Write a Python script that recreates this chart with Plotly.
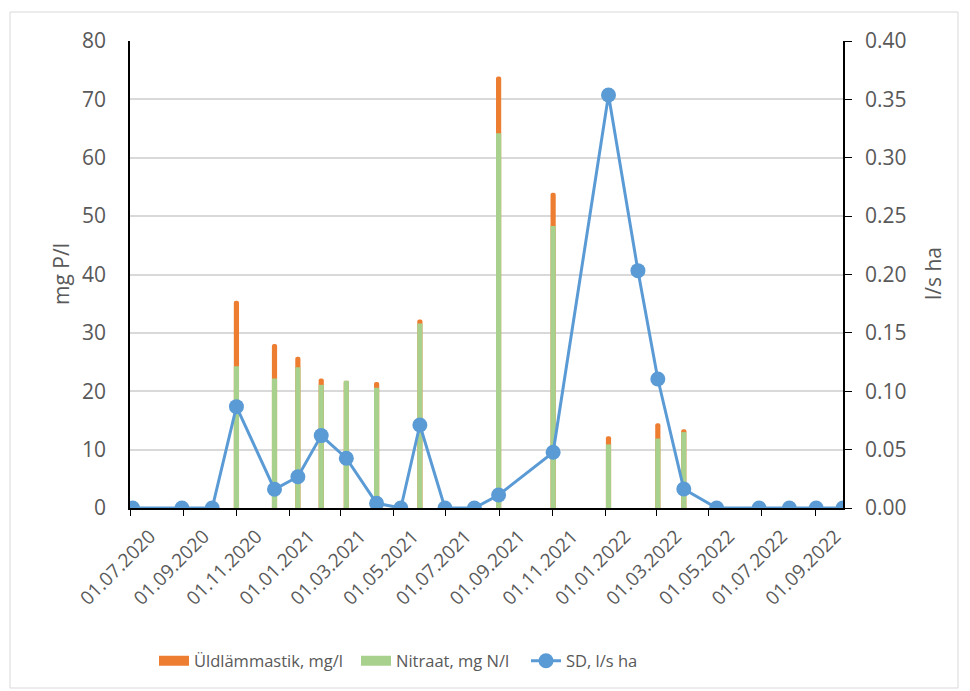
import plotly.graph_objects as go

# ---- data ----
bar_dates = ["2020-11-01", "2020-12-15", "2021-01-11", "2021-02-07", "2021-03-08",
             "2021-04-12", "2021-06-01", "2021-08-31", "2021-11-02", "2022-01-05",
             "2022-03-03", "2022-04-02"]
total_n = [35.5, 28.1, 25.9, 22.2, 21.8, 21.6, 32.3, 73.9, 54.0, 12.3, 14.5, 13.5]
nitrate = [24.3, 22.2, 24.1, 21.1, 21.8, 20.6, 31.6, 64.2, 48.3, 10.9, 11.9, 13.0]

sd_dates = ["2020-07-04", "2020-08-30", "2020-10-04", "2020-11-01", "2020-12-15",
            "2021-01-11", "2021-02-07", "2021-03-08", "2021-04-12", "2021-05-10",
            "2021-06-01", "2021-06-30", "2021-08-03", "2021-08-31", "2021-11-02",
            "2022-01-05", "2022-02-08", "2022-03-03", "2022-04-02", "2022-05-10",
            "2022-06-28", "2022-08-02", "2022-09-02", "2022-10-03"]
sd_values = [0, 0, 0, 0.0868, 0.016, 0.0268, 0.062, 0.0426, 0.004, 0,
             0.0711, 0, 0, 0.0111, 0.0477, 0.3537, 0.2033, 0.1105, 0.0163, 0,
             0, 0, 0, 0]

left_ticks = [0, 10, 20, 30, 40, 50, 60, 70, 80]
right_ticks = [0, 0.05, 0.10, 0.15, 0.20, 0.25, 0.30, 0.35, 0.40]

series_names = ["Üldlämmastik, mg/l", "Nitraat, mg N/l", "SD, l/s ha"]

ORANGE = "#ED7D31"
GREEN = "#A9D18E"
BLUE = "#5B9BD5"
TXT = "#595959"
FONT = "Open Sans"

bar_w = 6 * 86400000

W, H = 970, 691
L, R, T, B = 130, 127, 41, 183
pw, ph = W - L - R, H - T - B

def px(x):
    return (x - L) / pw

def py(y):
    return (H - B - y) / ph

fig = go.Figure()
fig.add_trace(go.Bar(x=bar_dates, y=total_n, name=series_names[0], showlegend=False,
                     marker=dict(color=ORANGE, line=dict(width=0), cornerradius=3),
                     width=bar_w))
fig.add_trace(go.Bar(x=bar_dates, y=nitrate, name=series_names[1], showlegend=False,
                     marker=dict(color=GREEN, line=dict(width=0)),
                     width=bar_w))
fig.add_trace(go.Scatter(x=sd_dates, y=sd_values, name=series_names[2], yaxis="y2",
                         mode="lines+markers", legend="legend3",
                         line=dict(color=BLUE, width=3),
                         marker=dict(color=BLUE, size=15)))
# legend swatches for bars (wide rectangles like the original)
fig.add_trace(go.Scatter(x=[None], y=[None], name=series_names[0], mode="lines",
                         line=dict(color=ORANGE, width=12), legend="legend"))
fig.add_trace(go.Scatter(x=[None], y=[None], name=series_names[1], mode="lines",
                         line=dict(color=GREEN, width=12), legend="legend2"))

leg_common = dict(orientation="h", xanchor="left", yanchor="middle",
                  font=dict(size=16.5, color=TXT, family=FONT), bgcolor="rgba(0,0,0,0)")

fig.update_layout(
    width=W, height=H,
    margin=dict(l=L, r=R, t=T, b=B, pad=0),
    paper_bgcolor="white", plot_bgcolor="white",
    barmode="overlay",
    font=dict(family=FONT, size=21, color=TXT),
    showlegend=True,
    legend=dict(x=px(154), y=py(661), **leg_common),
    legend2=dict(x=px(356), y=py(661), **leg_common),
    legend3=dict(x=px(526), y=py(661), **leg_common),
    xaxis=dict(type="date", range=["2020-07-01", "2022-10-03"],
               tick0="2020-07-01", dtick="M2", tickformat="%d.%m.%Y",
               tickangle=-45, showgrid=False, zeroline=False,
               showline=True, linecolor="black", linewidth=1.5,
               ticks="outside", ticklen=6, tickcolor="black",
               ticklabelshift=20, ticklabelstandoff=2,
               tickfont=dict(size=19, color=TXT)),
    yaxis=dict(range=[0, 80], tickvals=left_ticks, showgrid=True,
               gridcolor="#D9D9D9", gridwidth=1.5, zeroline=False,
               showline=True, linecolor="black", linewidth=1.5,
               ticks="", ticklabelstandoff=18,
               tickfont=dict(size=21, color=TXT)),
    yaxis2=dict(range=[0, 0.40], tickvals=right_ticks, tickformat=".2f",
                overlaying="y", side="right", showgrid=False, zeroline=False,
                showline=True, linecolor="black", linewidth=1.5,
                ticks="outside", ticklen=7, tickcolor="black", ticklabelstandoff=9,
                tickfont=dict(size=21, color=TXT)),
)

fig.add_annotation(text="mg P/l", xref="paper", yref="paper", x=px(61), y=py(274),
                   xanchor="center", yanchor="middle",
                   textangle=-90, showarrow=False, font=dict(size=21, color=TXT))
fig.add_annotation(text="l/s ha", xref="paper", yref="paper", x=px(933), y=py(274),
                   xanchor="center", yanchor="middle",
                   textangle=-90, showarrow=False, font=dict(size=21, color=TXT))

fig.add_shape(type="rect", xref="paper", yref="paper",
              x0=px(10), x1=px(958), y0=py(688), y1=py(12),
              line=dict(color="#D9D9D9", width=1), layer="below")

fig.write_html("out.html")
